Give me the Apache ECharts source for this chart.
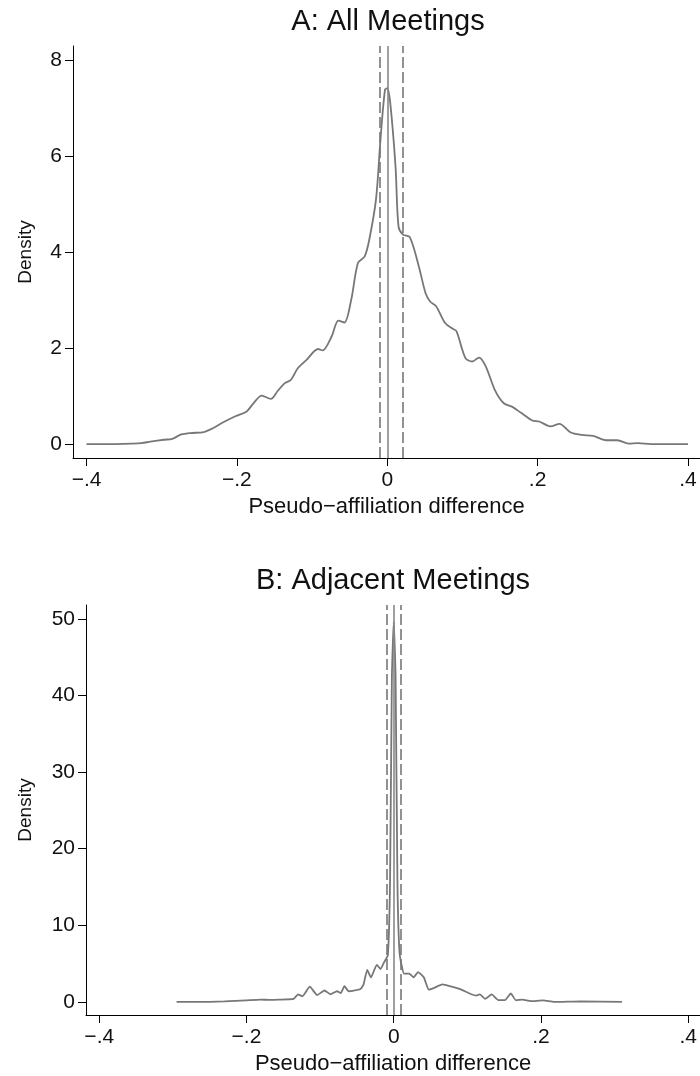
<!DOCTYPE html>
<html>
<head>
<meta charset="utf-8">
<script src="https://cdn.jsdelivr.net/npm/echarts@6/dist/echarts.min.js"></script>
<style>
  body{ margin:0; background:#fff; }
  #chart{ width:700px; height:1076px; }
</style>
</head>
<body>
<div id="chart"></div>
<script>
// Panel A: all meetings (kernel density)
var xA = [-0.4,-0.37,-0.34,-0.327,-0.315,-0.297,-0.286,-0.274,-0.262,-0.244,-0.232,-0.22,-0.202,-0.187,-0.178,-0.167,-0.155,-0.146,-0.137,-0.128,-0.119,-0.107,-0.092,-0.086,-0.074,-0.065,-0.057,-0.048,-0.039,-0.03,-0.024,-0.015,-0.009,-0.003,0,0.004,0.011,0.015,0.021,0.03,0.042,0.051,0.057,0.065,0.077,0.086,0.092,0.104,0.113,0.122,0.131,0.143,0.155,0.167,0.178,0.193,0.202,0.217,0.229,0.244,0.259,0.274,0.291,0.306,0.321,0.333,0.351,0.4];
var yA = [0,0,0.01,0.02,0.05,0.09,0.11,0.2,0.23,0.25,0.33,0.44,0.58,0.68,0.85,1.01,0.94,1.1,1.26,1.34,1.58,1.76,1.98,1.95,2.24,2.57,2.53,3.0,3.77,3.91,4.25,5.09,6.34,7.38,7.41,7.1,5.78,4.53,4.36,4.31,3.7,3.14,2.97,2.87,2.52,2.41,2.35,1.79,1.72,1.8,1.62,1.13,0.85,0.77,0.65,0.49,0.47,0.37,0.42,0.24,0.19,0.17,0.08,0.08,0.01,0.02,0,0];
var meanA = 0.002;
var bandA = [-0.013, 0.016];

// Panel B: adjacent meetings
var xB = [-0.295,-0.26,-0.23,-0.2,-0.181,-0.169,-0.157,-0.136,-0.13,-0.124,-0.114,-0.104,-0.094,-0.086,-0.077,-0.072,-0.067,-0.061,-0.045,-0.041,-0.036,-0.031,-0.023,-0.018,-0.013,-0.008,-0.005,-0.0025,0,0.0025,0.005,0.008,0.014,0.021,0.027,0.033,0.041,0.0475,0.054,0.066,0.079,0.091,0.103,0.112,0.117,0.124,0.133,0.142,0.151,0.159,0.166,0.175,0.186,0.203,0.218,0.254,0.31];
var yB = [0,0,0.09,0.22,0.31,0.27,0.31,0.4,0.98,0.75,2.0,0.9,1.5,1.0,1.4,1.15,2.05,1.4,1.7,2.3,4.2,3.2,4.85,4.3,5.2,6.1,15.8,42.5,49.6,42.5,15.8,6.3,3.7,3.7,3.2,3.9,3.2,1.6,1.8,2.3,2.0,1.64,1.11,0.84,0.98,0.4,0.98,0.25,0.25,1.11,0.22,0.31,0.1,0.2,0,0.09,0];
var meanB = 0.0005;
var bandB = [-0.0095, 0.0085];

var xTicks = [-0.4, -0.2, 0, 0.2, 0.4];
var yTicksA = [0, 2, 4, 6, 8];
var yTicksB = [0, 10, 20, 30, 40, 50];

var font = 'Liberation Sans, Arial, Helvetica, sans-serif';
var curveColor = '#777777';

function zip(xs, ys) {
  return xs.map(function (x, i) { return [x, ys[i]]; });
}

function fmtX(v) {
  if (Math.abs(v) < 1e-9) return '0';
  var s = String(Math.abs(v)).replace(/^0/, '');
  return (v < 0 ? '\u2212' : '') + s;
}

function xAxisOf(idx) {
  return {
    type: 'value', gridIndex: idx, min: -0.418, max: 0.416,
    name: 'Pseudo\u2212affiliation difference', nameLocation: 'middle', nameGap: 38,
    nameTextStyle: { fontFamily: font, fontSize: 22, color: '#111' },
    axisLine: { onZero: false, lineStyle: { color: '#000', width: 1 } },
    axisTick: { show: true, length: 8, customValues: xTicks, lineStyle: { color: '#000' } },
    axisLabel: { customValues: xTicks, formatter: fmtX, margin: 12, fontFamily: font, fontSize: 21, color: '#111' },
    splitLine: { show: false }
  };
}

function yAxisOf(idx, min, max, ticks, gap) {
  return {
    type: 'value', gridIndex: idx, min: min, max: max,
    name: 'Density', nameLocation: 'middle', nameGap: gap,
    nameTextStyle: { fontFamily: font, fontSize: 19, color: '#111' },
    axisLine: { show: true, onZero: false, lineStyle: { color: '#000', width: 1 } },
    axisTick: { show: true, length: 8, customValues: ticks, lineStyle: { color: '#000' } },
    axisLabel: { customValues: ticks, margin: 11, fontFamily: font, fontSize: 21, color: '#111' },
    splitLine: { show: false }
  };
}

function refLines(mean, band) {
  return {
    silent: true, symbol: 'none', animation: false,
    label: { show: false },
    data: [
      { xAxis: mean, lineStyle: { type: 'solid', color: '#888', width: 1.6 } },
      { xAxis: band[0], lineStyle: { type: [11, 4], color: '#777', width: 1.6 } },
      { xAxis: band[1], lineStyle: { type: [11, 4], color: '#777', width: 1.6 } }
    ]
  };
}

var chart = echarts.init(document.getElementById('chart'));
chart.setOption({
  animation: false,
  backgroundColor: '#fff',
  title: [
    { text: 'A: All Meetings', left: 388, top: 7, textAlign: 'center', padding: 0,
      textStyle: { fontFamily: font, fontSize: 29, fontWeight: 'normal', color: '#111' } },
    { text: 'B: Adjacent Meetings', left: 393, top: 566, textAlign: 'center', padding: 0,
      textStyle: { fontFamily: font, fontSize: 29, fontWeight: 'normal', color: '#111' } }
  ],
  grid: [
    { left: 73, top: 46, width: 627, height: 412 },
    { left: 86, top: 605, width: 614, height: 412 }
  ],
  xAxis: [xAxisOf(0), xAxisOf(1)],
  yAxis: [
    yAxisOf(0, -0.29, 8.29, yTicksA, 38),
    yAxisOf(1, -1.7, 51.8, yTicksB, 51)
  ],
  series: [
    {
      type: 'line', xAxisIndex: 0, yAxisIndex: 0, data: zip(xA, yA),
      showSymbol: false, smooth: 0.3,
      lineStyle: { color: curveColor, width: 1.8 },
      markLine: refLines(meanA, bandA)
    },
    {
      type: 'line', xAxisIndex: 1, yAxisIndex: 1, data: zip(xB, yB),
      showSymbol: false, smooth: 0.15,
      lineStyle: { color: curveColor, width: 1.8 },
      markLine: refLines(meanB, bandB)
    }
  ]
});
</script>
</body>
</html>
